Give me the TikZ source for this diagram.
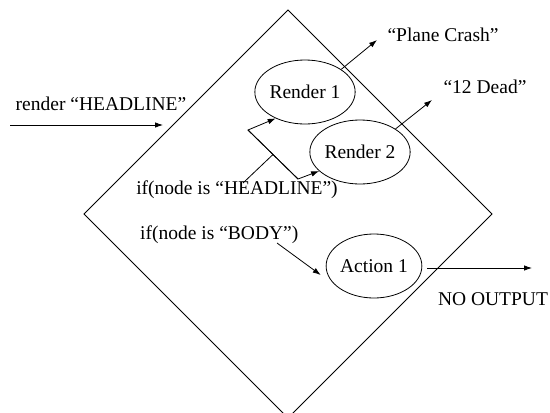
\documentclass[tikz,border=0pt]{standalone}
\usepackage{fontspec}
\setmainfont{Liberation Serif}
\usetikzlibrary{shapes.geometric,arrows.meta}
\begin{document}
\begin{tikzpicture}[x=1pt,y=-1pt,
  txt/.style={font=\fontsize{19.5}{22}\selectfont},
  state/.style={ellipse,draw,line width=0.8pt,minimum width=95pt,minimum height=64pt,inner sep=0pt,txt},
  lbl/.style={inner sep=0pt,txt},
  ln/.style={line width=0.8pt},
  arr/.style={ln,-{Latex[length=8pt,width=5.5pt]}}]
\useasboundingbox (0,0) rectangle (550,413);
\clip (0,0) rectangle (550,413);

% the processing unit
\draw[ln] (288,10) -- (492,214) -- (288,418) -- (84,214) -- cycle;

% states
\node[state] (r1) at (305,92) {Render 1};
\node[state] (r2) at (360,152) {Render 2};
\node[state] (a1) at (374,266) {Action 1};

% labels
\node[lbl] (inl)  at (101,104) {render “HEADLINE”};
\node[lbl] (pc)   at (443,35)  {“Plane Crash”};
\node[lbl] (dead) at (485,87)  {“12 Dead”};
\node[lbl] (ifh)  at (237,190) {if(node is “HEADLINE”)};
\node[lbl,anchor=west] (ifb) at (140,235) {if(node is “BODY”)};
\node[lbl] (noout) at (493,299) {NO OUTPUT};

% connector end points
\coordinate (inS) at (10,125);
\coordinate (inE) at (163,125);
\coordinate (pcE) at (377,40);
\coordinate (deadE) at (432,100);
\coordinate (forkA) at (248,130);
\coordinate (forkB) at (298,179);
\coordinate (forkJ) at (273,154.5);
\coordinate (ifhS) at (243,183);
\coordinate (ifbS) at (277,243);
\coordinate (outE) at (532,268);

% input
\draw[arr] (inS) -- (inE);

% outputs
\draw[arr] (r1.32) -- (pcE);
\draw[arr] (r2.33) -- (deadE);
\draw[arr] ([xshift=5pt,yshift=-2pt]a1.east) -- (outE);

% headline dispatch
\draw[ln] (ifhS) -- (forkJ);
\draw[arr] (forkB) -- (forkA) -- (r1.222);
\draw[arr] (forkA) -- (forkB) -- (r2.205);

% body dispatch
\draw[arr] (ifbS) -- ([xshift=-5pt,yshift=-9pt]a1.west);
\end{tikzpicture}
\end{document}
